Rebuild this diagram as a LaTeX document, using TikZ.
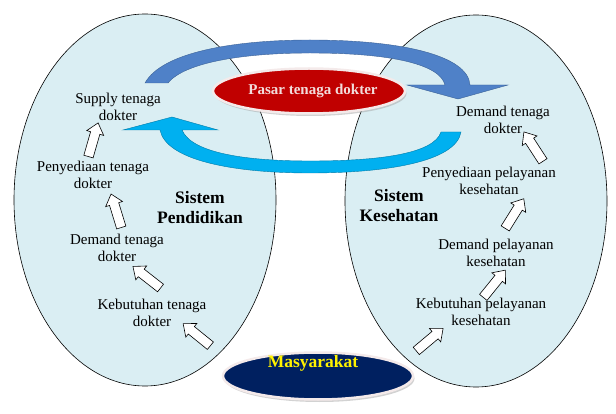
\documentclass[tikz,border=0pt]{standalone}
\usepackage{fontspec}
\setmainfont{Liberation Serif}
\newfontfamily\lserif{Liberation Serif}
\usetikzlibrary{shapes.geometric,shapes.arrows,shadows}
\definecolor{sysfill}{HTML}{DAEEF3}
\definecolor{topblue}{HTML}{4F81C8}
\definecolor{lowblue}{HTML}{00B0F0}
\definecolor{pasarred}{HTML}{C00000}
\definecolor{navyfill}{HTML}{002060}
\definecolor{pinktext}{HTML}{F2DCDB}
\definecolor{glow}{HTML}{F4EAEA}
\tikzset{
 system/.style={ellipse, draw=black, line width=0.6pt, fill=sysfill, minimum width=262, minimum height=372, inner sep=0},
 lbl/.style={align=center, font=\lserif\fontsize{15}{16.5}\selectfont, inner sep=0},
 heading/.style={align=center, font=\lserif\fontsize{17.5}{20}\selectfont\bfseries, inner sep=0},
 blk/.style={single arrow, draw=black, line width=0.6pt, fill=white, inner sep=4.5pt, single arrow head extend=4pt, single arrow tip angle=80, minimum height=35},
 oval/.style={ellipse, draw=glow, line width=2.5pt, inner sep=0, drop shadow={shadow xshift=1.5pt, shadow yshift=-2.5pt, fill=black!35}},
 curvearrow/.style={line width=0.4pt, line join=miter}
}
\begin{document}
\begin{tikzpicture}[x=1pt,y=-1pt]
\useasboundingbox (0,0) rectangle (616,414);
% systems
\node[system] (pend) at (145,200) {};
\node[system] (kes) at (476,201) {};
% top arrow (market to health system)
\filldraw[curvearrow, fill=topblue, draw=topblue!75!black]
  (145,83) .. controls (162,52) and (235,40) .. (310,40)
  .. controls (400,40) and (468,55) .. (470,85)
  -- (508,85) -- (458,99) -- (407,85) -- (445,85)
  .. controls (440,64) and (390,53) .. (310,53)
  .. controls (245,53) and (185,62) .. (168,83) -- cycle;
% lower arrow (health system back to education)
\filldraw[curvearrow, fill=lowblue, draw=lowblue!70!black]
  (441,132) -- (461,132)
  .. controls (456,162) and (385,173) .. (310,173)
  .. controls (232,173) and (166,160) .. (160,130)
  -- (123,130) -- (172,117) -- (218,130) -- (182,130)
  .. controls (192,154) and (250,161) .. (310,161)
  .. controls (378,161) and (434,154) .. (441,132) -- cycle;
% market and society
\node[oval, fill=pasarred, minimum width=192, minimum height=45] (pasar) at (309,91) {};
\node[font=\lserif\fontsize{15}{17}\selectfont\bfseries, text=pinktext] (pasart) at (313,91) {Pasar tenaga dokter};
\node[oval, fill=navyfill, minimum width=190, minimum height=47] (masy) at (318,376) {};
\node[font=\lserif\fontsize{17.5}{20}\selectfont\bfseries, text=yellow] (masyt) at (313,363) {Masyarakat};
% left labels
\node[lbl] (l1) at (118,107) {Supply tenaga\\dokter};
\node[lbl] (l2) at (93,175) {Penyediaan tenaga\\dokter};
\node[lbl] (l3) at (117,248) {Demand tenaga\\dokter};
\node[lbl] (l4) at (152,313) {Kebutuhan tenaga\\dokter};
\node[heading] (ls) at (200,208) {Sistem\\Pendidikan};
% right labels
\node[lbl] (r1) at (503,120) {Demand tenaga\\dokter};
\node[lbl] (r2) at (489,181) {Penyediaan pelayanan\\kesehatan};
\node[lbl] (r3) at (496,253) {Demand pelayanan\\kesehatan};
\node[lbl] (r4) at (481,312) {Kebutuhan pelayanan\\kesehatan};
\node[heading] (rs) at (399,206) {Sistem\\Kesehatan};
% block arrows left
\node[blk, rotate=74] (a1) at (92.5,142.5) {};
\node[blk, rotate=107] (a2) at (117,213.5) {};
\node[blk, rotate=142] (a3) at (149,279) {};
\node[blk, rotate=141] (a4) at (199,336.5) {};
% block arrows right
\node[blk, rotate=123] (b1) at (535,149) {};
\node[blk, rotate=58] (b2) at (513,216) {};
\node[blk, rotate=51] (b3) at (492.5,286) {};
\node[blk, rotate=40] (b4) at (427.5,341.5) {};
\end{tikzpicture}
\end{document}
